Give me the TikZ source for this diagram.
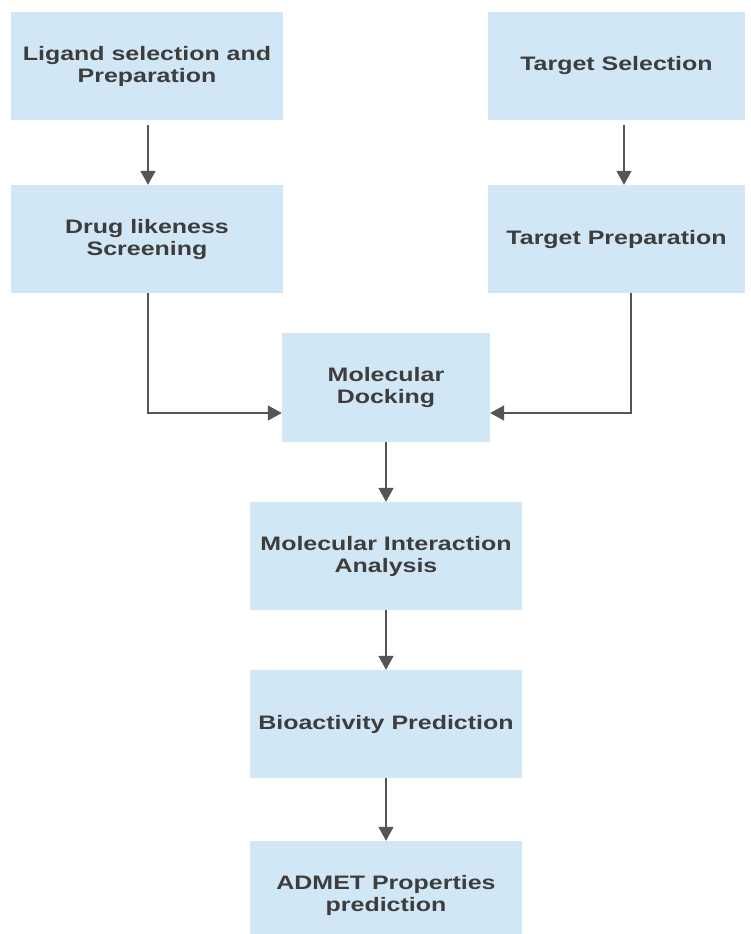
\documentclass[tikz,border=0pt]{standalone}
\usepackage{fontspec}
\setmainfont{Liberation Sans}[FakeStretch=1.28]
\usetikzlibrary{arrows.meta}
\definecolor{boxblue}{HTML}{D1E7F5}
\definecolor{txtgray}{HTML}{3D3D3D}
\definecolor{arrgray}{HTML}{555555}
\begin{document}
\begin{tikzpicture}[x=1pt,y=-1pt,
  stage/.style={fill=boxblue,text=txtgray,align=center,inner sep=0pt,
    minimum width=272pt,minimum height=108pt,
    font=\fontsize{19.5}{22}\selectfont\bfseries},
  flow/.style={draw=arrgray,line width=1.5pt,
    -{Triangle[length=14pt,width=15pt]}}]
\path[use as bounding box,fill=white] (0,0) rectangle (751,934);
% ligand side
\node[stage] (lig) at (147,66) {Ligand selection and\\Preparation};
\node[stage] (drug) at (147,239) {Drug likeness\\Screening};
% target side
\node[stage,minimum width=257pt] (tsel) at (616.5,66) {Target Selection};
\node[stage,minimum width=257pt] (tprep) at (616.5,239) {Target Preparation};
% main column
\node[stage,minimum width=208pt,minimum height=109pt] (dock) at (386,387.5) {Molecular\\Docking};
\node[stage] (inter) at (386,556) {Molecular Interaction\\Analysis};
\node[stage] (bio) at (386,724) {Bioactivity Prediction};
\node[stage] (admet) at (386,895) {ADMET Properties\\prediction};
% arrows
\draw[flow,shorten <=5pt] ([xshift=1pt]lig.south) -- ([xshift=1pt]drug.north);
\draw[flow,shorten <=5pt] ([xshift=7.5pt]tsel.south) -- ([xshift=7.5pt]tprep.north);
\draw[flow] ([xshift=1pt]drug.south) |- ([yshift=-25.5pt]dock.west);
\draw[flow] ([xshift=14.5pt]tprep.south) |- ([yshift=-25.5pt]dock.east);
\draw[flow] (dock) -- (inter);
\draw[flow] (inter) -- (bio);
\draw[flow] (bio) -- (admet);
\end{tikzpicture}
\end{document}
